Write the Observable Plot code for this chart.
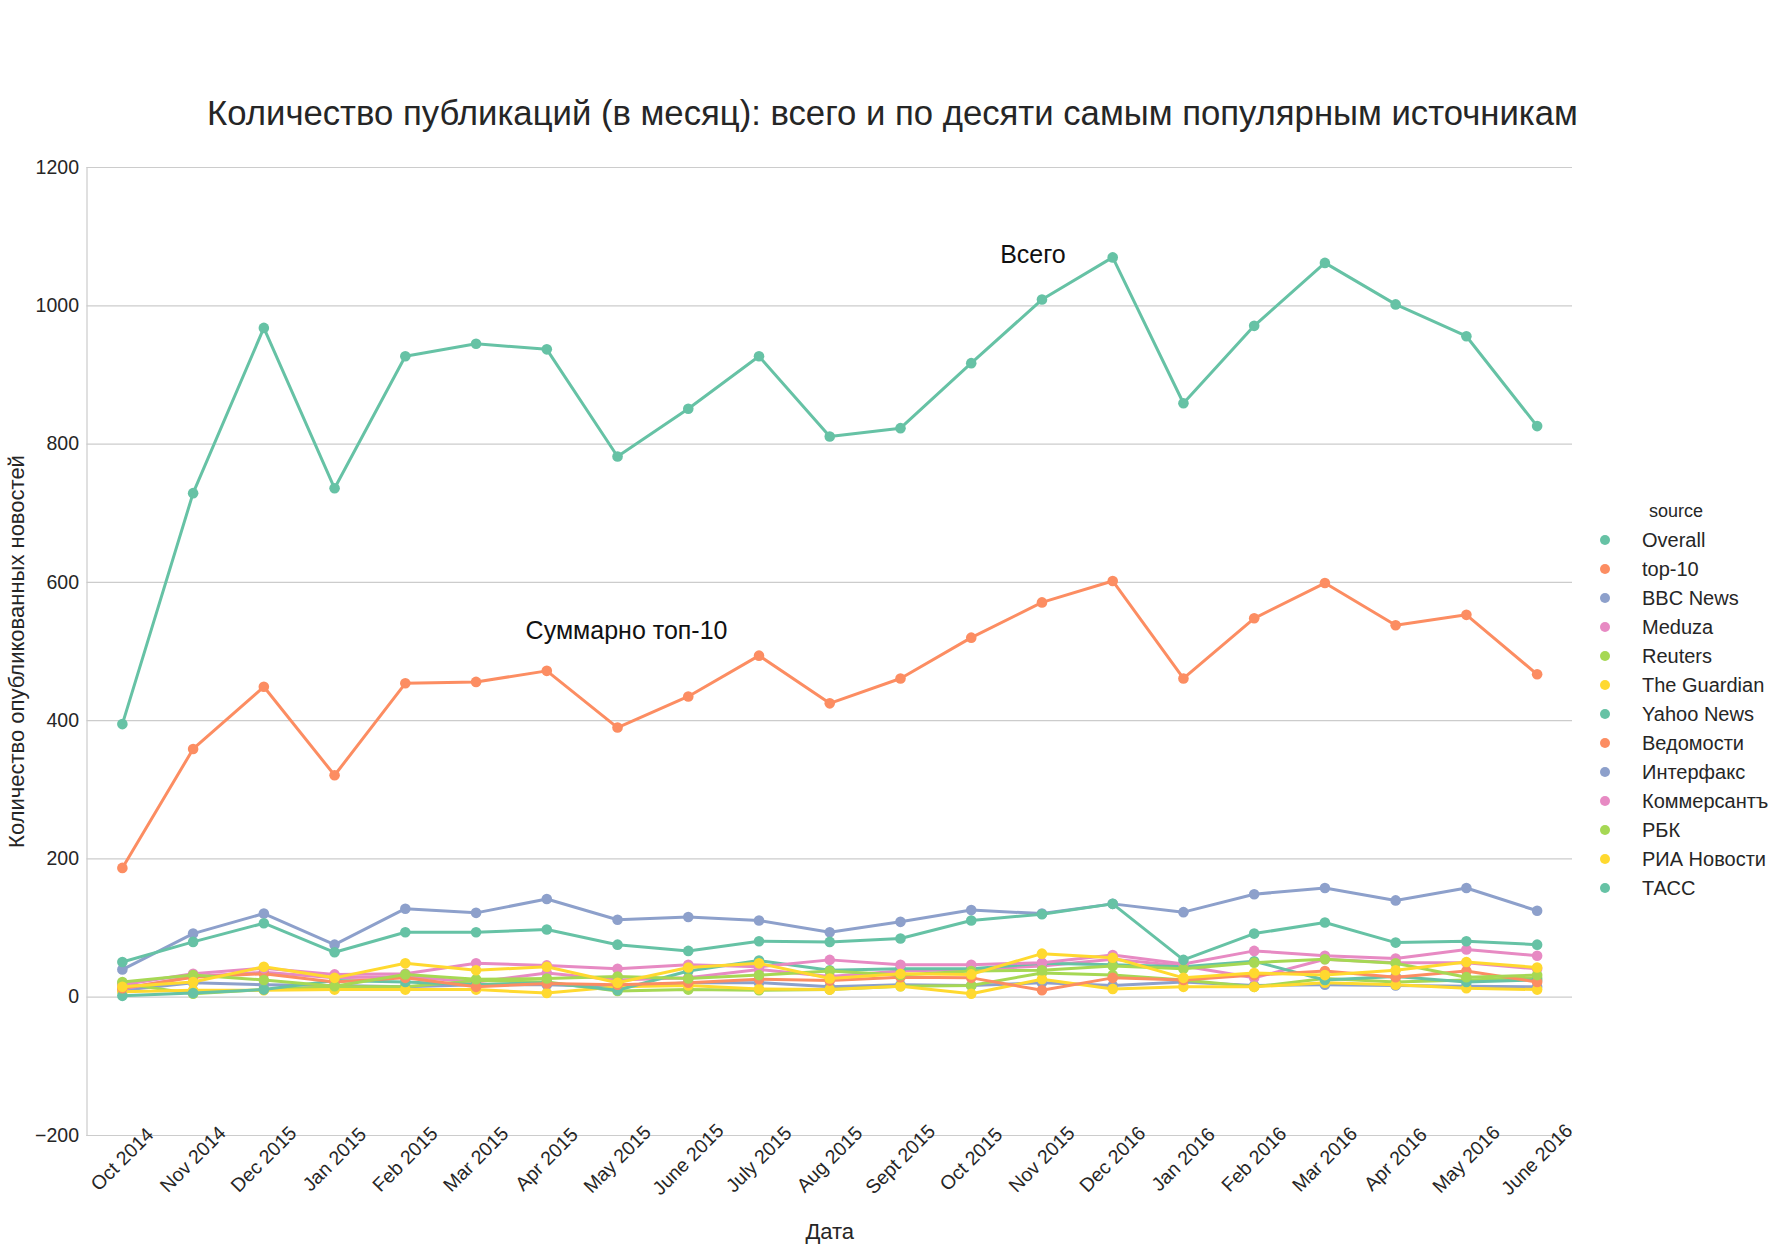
<!DOCTYPE html>
<html>
<head>
<meta charset="utf-8">
<script src="https://cdn.jsdelivr.net/npm/d3@7"></script>
<script src="https://cdn.jsdelivr.net/npm/@observablehq/plot@0.6"></script>
<style>
  body { margin: 0; background: #fff; font-family: "Liberation Sans", Arial, sans-serif; color: #262626; }
  #wrap { position: relative; width: 1785px; height: 1250px; overflow: hidden; }
  #title { height: 133px; box-sizing: border-box; padding-top: 93px; line-height: 40px; font-size: 34.7px; text-align: center; width: 1785px; white-space: nowrap; }
  #legend { position: absolute; left: 1590px; top: 496.5px; width: 190px; }
  #legend .lt { width: 172px; text-align: center; font-size: 18px; line-height: 29px; height: 29px; }
  #legend .row { display: flex; align-items: center; height: 29px; font-size: 20px; white-space: nowrap; }
  #legend .dot { width: 10px; height: 10px; border-radius: 50%; margin-left: 10px; flex: none; }
  #legend .lab { margin-left: 32px; }
</style>
</head>
<body>
<div id="wrap">
  <div id="title"></div>
  <div id="chart"></div>
  <div id="legend"></div>
</div>
<script>
const titleText = "Количество публикаций (в месяц): всего и по десяти самым популярным источникам";
const xLabel = "Дата";
const yLabel = "Количество опубликованных новостей";
const legendTitle = "source";

const months = ["Oct 2014","Nov 2014","Dec 2015","Jan 2015","Feb 2015","Mar 2015","Apr 2015","May 2015","June 2015","July 2015","Aug 2015","Sept 2015","Oct 2015","Nov 2015","Dec 2016","Jan 2016","Feb 2016","Mar 2016","Apr 2016","May 2016","June 2016"];
const sources = ["Overall","top-10","BBC News","Meduza","Reuters","The Guardian","Yahoo News","Ведомости","Интерфакс","Коммерсантъ","РБК","РИА Новости","ТАСС"];

const overall    = [395,729,968,736,927,945,937,782,851,927,811,823,917,1009,1070,859,971,1062,1002,956,826];
const top10      = [187,359,449,321,454,456,472,390,435,494,425,461,520,571,602,461,548,599,538,553,467];
const bbcNews    = [10,21,18,17,15,18,18,15,21,21,15,18,17,21,17,22,17,18,17,16,15];
const meduza     = [12,30,36,28,30,22,35,25,28,40,30,38,40,45,55,45,28,55,50,50,41];
const reuters    = [20,5,11,15,15,24,22,9,11,10,11,16,17,35,32,25,15,27,22,25,28];
const guardian   = [8,10,10,11,11,11,6,15,17,12,11,16,5,26,12,15,15,21,18,13,11];
const yahooNews  = [2,6,11,24,22,18,21,10,38,53,39,41,41,49,47,44,52,25,30,22,25];
const vedomosti  = [13,29,34,22,28,15,20,18,21,26,24,29,28,10,28,25,32,38,29,38,22];
const interfax   = [40,92,121,76,128,122,142,112,116,111,94,109,126,121,135,123,149,158,140,158,125];
const kommersant = [18,34,42,33,34,49,46,41,47,44,54,47,47,50,61,48,67,60,56,69,60];
const rbk        = [22,32,25,16,33,26,27,30,27,32,38,32,38,39,45,41,50,55,49,29,32];
const ria        = [15,22,44,28,49,39,44,21,43,49,27,34,33,63,57,28,35,32,39,51,43];
const tass       = [51,80,107,65,94,94,98,76,67,81,80,85,111,120,135,54,92,108,79,81,76];

const yTicks = [-200,0,200,400,600,800,1000,1200];

const annLabels = ["Всего","Суммарно топ-10"];
const annMonths = ["Nov 2015","May 2015"];
const annValues = [1073,530];

const palette = ["#66c2a5","#fc8d62","#8da0cb","#e78ac3","#a6d854","#ffd92f"];

const seriesList = [overall, top10, bbcNews, meduza, reuters, guardian, yahooNews, vedomosti, interfax, kommersant, rbk, ria, tass];
const rows = sources.flatMap((s, i) => seriesList[i].map((v, j) => ({source: s, month: months[j], value: v})));
const colorRange = sources.map((_, i) => palette[i % palette.length]);
const annotations = annLabels.map((t, i) => ({label: t, month: annMonths[i], value: annValues[i]}));

const fmt = d => d < 0 ? "\u2212" + Math.abs(d) : String(d);

document.getElementById("title").textContent = titleText;

const seriesMarks = sources.flatMap(s => {
  const d = rows.filter(r => r.source === s);
  return [
    Plot.line(d, {x: "month", y: "value", stroke: "source", strokeWidth: 3}),
    Plot.dot(d, {x: "month", y: "value", fill: "source", r: 5.3})
  ];
});

const chart = Plot.plot({
  width: 1785,
  height: 1117,
  marginLeft: 86.5,
  marginRight: 213,
  marginTop: 34,
  marginBottom: 115,
  style: {fontFamily: "'Liberation Sans', Arial, sans-serif", color: "#262626", background: "#fff"},
  x: {type: "point", domain: months, padding: 0.5, round: false, axis: null},
  y: {domain: [-200, 1200]},
  color: {type: "ordinal", domain: sources, range: colorRange},
  marks: [
    Plot.gridY({ticks: yTicks, stroke: "#cccccc", strokeOpacity: 1, strokeWidth: 1.2}),
    Plot.frame({anchor: "left", stroke: "#cccccc", strokeWidth: 1.2}),
    Plot.ruleY([-200], {stroke: "#cccccc", strokeWidth: 1.2}),
    Plot.axisY({ticks: yTicks, tickSize: 0, tickPadding: 8, fontSize: 19.5, label: null, tickFormat: fmt, fill: "#262626"}),
    Plot.text(months, {x: d => d, frameAnchor: "bottom", dy: 24, rotate: -45, textAnchor: "middle", lineAnchor: "middle", fontSize: 19.5, fill: "#262626"}),
    Plot.text([yLabel], {frameAnchor: "left", dx: -70.5, rotate: -90, textAnchor: "middle", lineAnchor: "middle", fontSize: 22, fill: "#262626"}),
    Plot.text([xLabel], {frameAnchor: "bottom", dy: 96, textAnchor: "middle", lineAnchor: "middle", fontSize: 22, fill: "#262626"}),
    ...seriesMarks,
    Plot.text(annotations.slice(0, 1), {x: "month", y: "value", text: "label", dx: -9, fontSize: 25, fill: "#111"}),
    Plot.text(annotations.slice(1, 2), {x: "month", y: "value", text: "label", dx: 9, fontSize: 25, fill: "#111"})
  ]
});
document.getElementById("chart").appendChild(chart);

const legend = document.getElementById("legend");
const lt = document.createElement("div");
lt.className = "lt";
lt.textContent = legendTitle;
legend.appendChild(lt);
sources.forEach((s, i) => {
  const row = document.createElement("div");
  row.className = "row";
  const dot = document.createElement("span");
  dot.className = "dot";
  dot.style.background = colorRange[i];
  const lab = document.createElement("span");
  lab.className = "lab";
  lab.textContent = s;
  row.appendChild(dot);
  row.appendChild(lab);
  legend.appendChild(row);
});
</script>
</body>
</html>
